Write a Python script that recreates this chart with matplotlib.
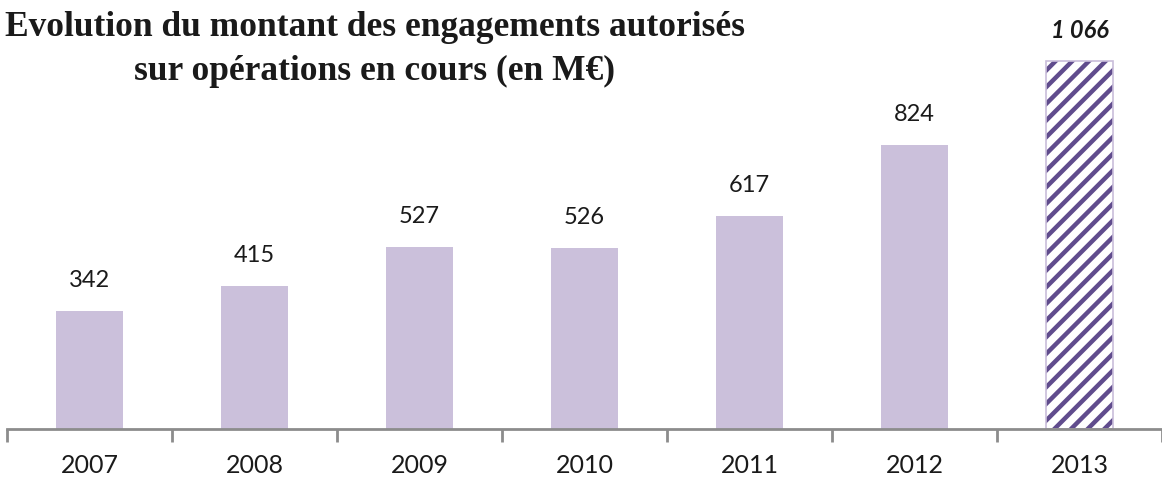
import matplotlib
matplotlib.use("Agg")
import matplotlib.pyplot as plt

years = ["2007", "2008", "2009", "2010", "2011", "2012", "2013"]
values = [342, 415, 527, 526, 617, 824, 1066]
value_labels = ["342", "415", "527", "526", "617", "824", "1 066"]

W, H = 1162, 484
fig = plt.figure(figsize=(W / 100, H / 100), dpi=100)
cat_w = 166.0
left_px = 7
bottom_px = 55
ax_h_px = 414
ax = fig.add_axes([left_px / W, bottom_px / H, (W - left_px) / W, ax_h_px / H])
ax.set_xlim(-0.5, -0.5 + (W - left_px) / cat_w)
ax.set_ylim(0, 1200)

bar_color = "#CBC0DB"
hatch_color = "#604C8D"
plt.rcParams['hatch.linewidth'] = 3.2

x = list(range(len(years)))
for i, (xi, v) in enumerate(zip(x, values)):
    if i < len(years) - 1:
        ax.bar(xi, v, width=0.41, color=bar_color, edgecolor="none")
    else:
        ax.bar(xi, v, width=0.41, facecolor="white", edgecolor=hatch_color,
               hatch="//", linewidth=0)
        ax.bar(xi, v, width=0.41, facecolor="none", edgecolor="#C9BEDA", linewidth=1.2)

for i, (xi, v, lab) in enumerate(zip(x, values, value_labels)):
    if i < len(years) - 1:
        ax.text(xi, v + 88, lab, ha="center", va="center", fontsize=17,
                family="Lato", color="#1a1a1a")
    else:
        ax.text(xi, v + 88, lab, ha="center", va="center", fontsize=17,
                family="Lato", color="#1a1a1a", fontweight="bold", style="italic")

for s in ["top", "right", "left"]:
    ax.spines[s].set_visible(False)
ax.spines["bottom"].set_color("#8C8C8C")
ax.spines["bottom"].set_linewidth(2)
ax.set_yticks([])
ax.set_xticks([i - 0.5 for i in range(len(years) + 1)], minor=False)
ax.set_xticklabels([])
ax.tick_params(axis="x", which="major", length=9, width=2, color="#8C8C8C", direction="out")
ax.set_xticks(x, minor=True)
ax.set_xticklabels(years, minor=True, fontsize=18, family="Lato", color="#1a1a1a")
ax.tick_params(axis="x", which="minor", length=0, pad=18)

fig.text(375 / W, 1 - 28 / H, "Evolution du montant des engagements autorisés",
         ha="center", va="center", fontsize=25.5, family="Liberation Serif",
         fontweight="bold", color="#1a1a1a")
fig.text(375 / W, 1 - 71 / H, "sur opérations en cours (en M€)",
         ha="center", va="center", fontsize=25.5, family="Liberation Serif",
         fontweight="bold", color="#1a1a1a")

fig.savefig("out.png", dpi=100)
